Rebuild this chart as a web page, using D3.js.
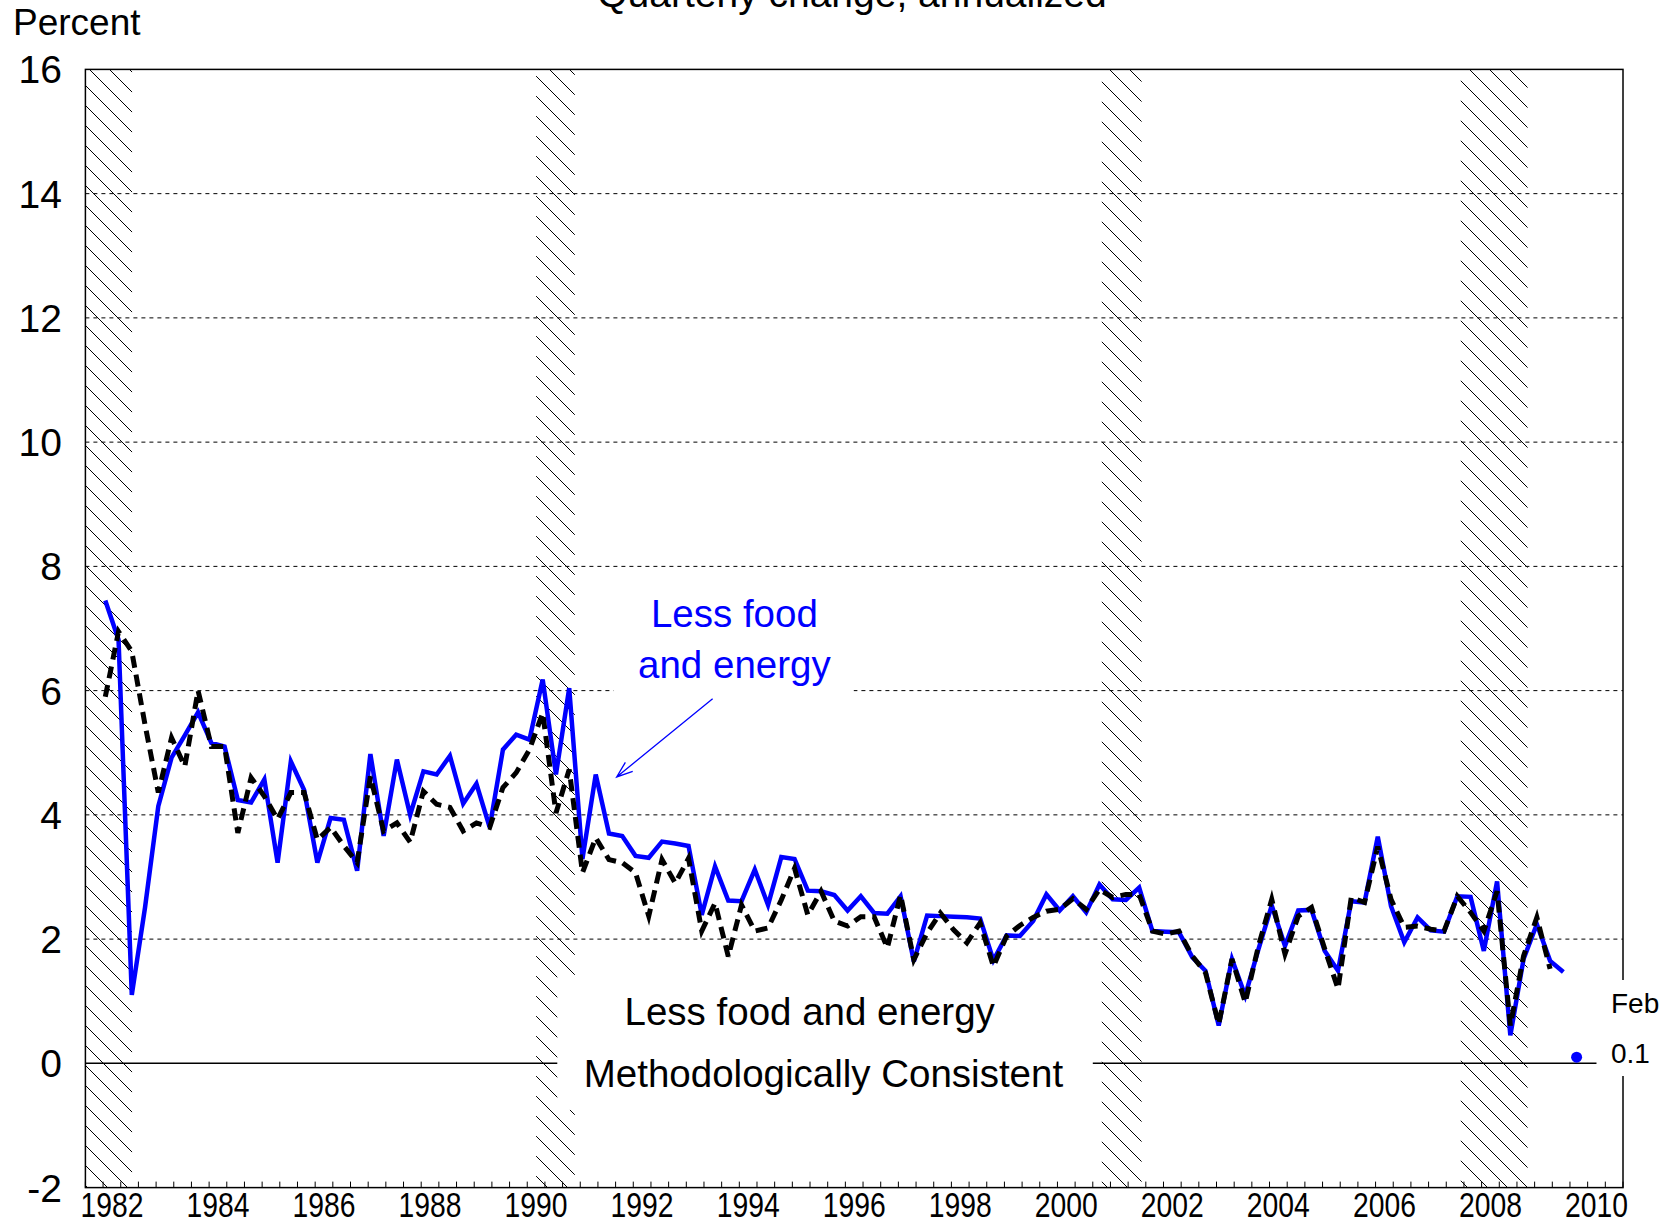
<!DOCTYPE html>
<html lang="en">
<head>
<meta charset="UTF-8">
<title>Quarterly change, annualized</title>
<script src="https://cdn.jsdelivr.net/npm/d3@7"></script>
<style>
    body { margin: 0; background: #fff; }
    svg { display: block; font-family: "Liberation Sans", Arial, sans-serif; }
</style>
</head>
<body>
<svg id="chart" width="1673" height="1226"></svg>
<script>
// quarterly data, 1982:Q2 to 2009:Q4, plotted at mid-quarter
const firstQuarter = 1982.25;
const lessFoodEnergy = [
    7.45, 6.82, 1.1, 2.51, 4.14, 4.92, 5.28, 5.65, 5.16, 5.1,
    4.24, 4.2, 4.57, 3.23, 4.86, 4.4, 3.23, 3.95, 3.92, 3.1,
    4.98, 3.66, 4.89, 4.0, 4.7, 4.65, 4.95, 4.18, 4.5, 3.8,
    5.05, 5.29, 5.21, 6.18, 4.65, 6.04, 3.29, 4.65, 3.7, 3.66,
    3.34, 3.31, 3.57, 3.54, 3.5, 2.39, 3.17, 2.62, 2.61, 3.12,
    2.55, 3.32, 3.29, 2.78, 2.77, 2.71, 2.46, 2.69, 2.42, 2.41,
    2.69, 1.64, 2.38, 2.37, 2.36, 2.35, 2.33, 1.66, 2.06, 2.05,
    2.29, 2.72, 2.46, 2.69, 2.43, 2.88, 2.64, 2.63, 2.83, 2.13,
    2.12, 2.11, 1.71, 1.49, 0.61, 1.68, 1.09, 1.84, 2.54, 1.89,
    2.46, 2.47, 1.81, 1.49, 2.61, 2.59, 3.65, 2.53, 1.95, 2.35,
    2.14, 2.12, 2.69, 2.68, 1.81, 2.93, 0.45, 1.68, 2.24, 1.65,
    1.47
];
// methodologically consistent series ends one quarter earlier
const methConsistent = [
    5.9, 6.95, 6.63, 5.45, 4.36, 5.24, 4.78, 6.0, 5.1, 5.1,
    3.71, 4.6, 4.3, 3.93, 4.36, 4.36, 3.6, 3.8, 3.5, 3.23,
    4.62, 3.74, 3.87, 3.56, 4.38, 4.17, 4.12, 3.74, 3.87, 3.8,
    4.44, 4.68, 5.05, 5.64, 4.03, 4.73, 3.07, 3.63, 3.28, 3.23,
    3.07, 2.37, 3.28, 2.9, 3.3, 2.13, 2.58, 1.72, 2.55, 2.13,
    2.18, 2.63, 3.14, 2.39, 2.77, 2.29, 2.21, 2.36, 2.36, 1.86,
    2.71, 1.67, 2.1, 2.42, 2.15, 1.94, 2.26, 1.56, 2.05, 2.22,
    2.35, 2.45, 2.48, 2.65, 2.48, 2.8, 2.67, 2.72, 2.72, 2.13,
    2.08, 2.13, 1.73, 1.46, 0.63, 1.68, 0.98, 1.89, 2.64, 1.76,
    2.37, 2.51, 1.84, 1.2, 2.67, 2.59, 3.49, 2.64, 2.19, 2.21,
    2.16, 2.13, 2.69, 2.43, 2.13, 2.77, 0.61, 1.73, 2.35, 1.52
];
// latest monthly reading
const latestDate = 2010 + 1.5 / 12;
const latestValue = 0.1;
const latestLabel = "Feb";

const recessions = [[1981.5, 1982.88], [1990.5, 1991.23], [2001.17, 2001.92], [2007.94, 2009.2]];
const yTicks = [-2, 0, 2, 4, 6, 8, 10, 12, 14, 16];
const xLabels = [1982, 1984, 1986, 1988, 1990, 1992, 1994, 1996, 1998, 2000, 2002, 2004, 2006, 2008, 2010];

const svg = d3.select("#chart");
const plotL = 85.4, plotR = 1623, plotT = 69.4, plotB = 1187.6;

const x = d3.scaleLinear().domain([1982, 2011]).range([plotL, plotR]);
const y = d3.scaleLinear().domain([-2, 16]).range([plotB, plotT]);
const qDate = i => firstQuarter + 0.125 + i * 0.25;

const defs = svg.append("defs");
const pat = defs.append("pattern")
    .attr("id", "hatch")
    .attr("patternUnits", "userSpaceOnUse")
    .attr("width", 20).attr("height", 20);
pat.append("path")
    .attr("d", "M0,0L20,20M-5,15L5,25M15,-5L25,5")
    .attr("stroke", "#000").attr("stroke-width", 1);
defs.append("clipPath").attr("id", "plot")
    .append("rect")
    .attr("x", plotL).attr("y", plotT)
    .attr("width", plotR - plotL).attr("height", plotB - plotT);

// recession bands
svg.append("g").attr("clip-path", "url(#plot)")
    .selectAll("rect")
    .data(recessions)
    .join("rect")
    .attr("x", d => x(d[0]))
    .attr("width", d => x(d[1]) - x(d[0]))
    .attr("y", plotT)
    .attr("height", plotB - plotT)
    .attr("fill", "url(#hatch)");

// dotted grid
svg.append("g")
    .selectAll("line")
    .data(yTicks.filter(v => v > 0 && v < 16))
    .join("line")
    .attr("x1", plotL).attr("x2", plotR)
    .attr("y1", d => y(d)).attr("y2", d => y(d))
    .attr("stroke", "#000")
    .attr("stroke-width", 1)
    .attr("stroke-dasharray", "4,4");

// zero line
svg.append("line")
    .attr("x1", plotL).attr("x2", x(2010.5))
    .attr("y1", y(0)).attr("y2", y(0))
    .attr("stroke", "#000").attr("stroke-width", 1.5);

// frame
svg.append("rect")
    .attr("x", plotL).attr("y", plotT)
    .attr("width", plotR - plotL).attr("height", plotB - plotT)
    .attr("fill", "none").attr("stroke", "#000").attr("stroke-width", 1.5);

// bottom ticks
const tickVals = d3.range(1982, 2011.001, 1 / 3);
svg.append("g")
    .selectAll("line")
    .data(tickVals)
    .join("line")
    .attr("x1", d => x(d)).attr("x2", d => x(d))
    .attr("y1", plotB).attr("y2", plotB - 6)
    .attr("stroke", "#000").attr("stroke-width", 1);

// y labels
svg.append("g")
    .selectAll("text")
    .data(yTicks)
    .join("text")
    .attr("x", 62)
    .attr("y", d => y(d))
    .attr("dy", "0.36em")
    .attr("text-anchor", "end")
    .attr("font-size", 39)
    .text(d => d);

// x labels, centred in the year
svg.append("g")
    .selectAll("text")
    .data(xLabels)
    .join("text")
    .attr("x", d => x(d + 0.5))
    .attr("y", 1217)
    .attr("text-anchor", "middle")
    .attr("font-size", 35)
    .attr("textLength", 63)
    .attr("lengthAdjust", "spacingAndGlyphs")
    .text(d => d);

svg.append("text")
    .attr("x", 13).attr("y", 35)
    .attr("font-size", 37)
    .text("Percent");

// title sits mostly above the top edge, as in the source image
svg.append("text")
    .attr("x", 852).attr("y", 7)
    .attr("text-anchor", "middle")
    .attr("font-size", 39)
    .text("Quarterly change, annualized");

// white boxes behind labels
const boxes = [
    [1990.9, 2001.0, 1.4, -0.75],
    [1991.96, 1996.49, 7.78, 5.93]
];
svg.append("g")
    .selectAll("rect")
    .data(boxes)
    .join("rect")
    .attr("x", d => x(d[0]))
    .attr("width", d => x(d[1]) - x(d[0]))
    .attr("y", d => y(d[2]))
    .attr("height", d => y(d[3]) - y(d[2]))
    .attr("fill", "#fff");
svg.append("rect")
    .attr("x", 1600).attr("y", 980)
    .attr("width", 73).attr("height", 96)
    .attr("fill", "#fff");

// series
const line = d3.line()
    .x((d, i) => x(qDate(i)))
    .y(d => y(d));

svg.append("path")
    .datum(lessFoodEnergy)
    .attr("d", line)
    .attr("fill", "none")
    .attr("stroke", "#0000ff")
    .attr("stroke-width", 4.5)
    .attr("stroke-linejoin", "miter");

svg.append("path")
    .datum(methConsistent)
    .attr("d", line)
    .attr("fill", "none")
    .attr("stroke", "#000")
    .attr("stroke-width", 5)
    .attr("stroke-dasharray", "12,7");

svg.append("circle")
    .attr("cx", x(latestDate))
    .attr("cy", y(latestValue))
    .attr("r", 5.5)
    .attr("fill", "#0000ff");

// labels
svg.append("text")
    .attr("x", 1611).attr("y", 1003)
    .attr("dy", "0.36em")
    .attr("font-size", 28)
    .text(latestLabel);
svg.append("text")
    .attr("x", 1611).attr("y", 1053)
    .attr("dy", "0.36em")
    .attr("font-size", 28)
    .text(latestValue);

const blueLab = svg.append("text")
    .attr("text-anchor", "middle")
    .attr("font-size", 38.5)
    .attr("fill", "#0000ff");
blueLab.append("tspan").attr("x", x(1994.24)).attr("y", y(7.25)).attr("dy", "0.36em").text("Less food");
blueLab.append("tspan").attr("x", x(1994.24)).attr("y", y(6.43)).attr("dy", "0.36em").text("and energy");

svg.append("text")
    .attr("x", x(1995.66)).attr("y", y(0.84))
    .attr("dy", "0.36em")
    .attr("text-anchor", "middle")
    .attr("font-size", 38.5)
    .text("Less food and energy");
svg.append("text")
    .attr("x", x(1995.92)).attr("y", y(-0.15))
    .attr("dy", "0.36em")
    .attr("text-anchor", "middle")
    .attr("font-size", 38.5)
    .text("Methodologically Consistent");

// arrow to the blue line
const tip = [x(1992.02), y(4.61)], tail = [x(1993.83), y(5.87)];
const ang = Math.atan2(tail[1] - tip[1], tail[0] - tip[0]);
const head = [ang - 0.35, ang + 0.35].map(a => [tip[0] + 17 * Math.cos(a), tip[1] + 17 * Math.sin(a)]);
svg.append("path")
    .attr("d", `M${tail}L${tip}M${head[0]}L${tip}L${head[1]}`)
    .attr("fill", "none")
    .attr("stroke", "#0000ff")
    .attr("stroke-width", 1.3);
</script>
</body>
</html>
